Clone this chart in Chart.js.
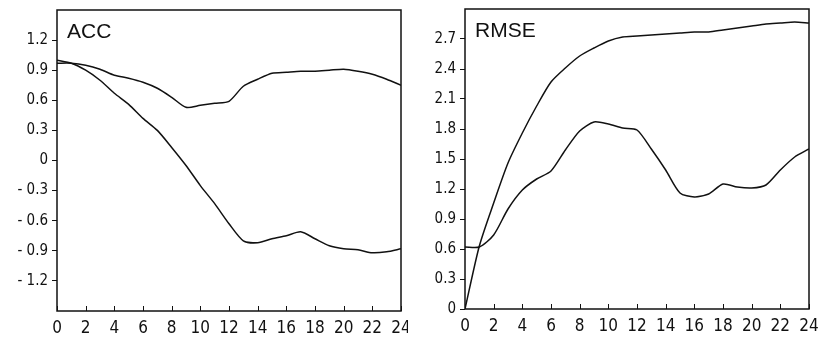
<!DOCTYPE html>
<html lang="en">
<head>
    <meta charset="utf-8" />
    <title>ACC / RMSE</title>
    <script src="https://cdn.jsdelivr.net/npm/chart.js"></script>
    <style>
      body { margin: 0; background: #fff; }
      #wrap { position: relative; width: 818px; height: 338px; }
      #accChart { position: absolute; left: 0; top: 0; }
      #rmseChart { position: absolute; left: 408px; top: 0; }
    </style>
</head>
<body>
    <div id="wrap">
        <canvas id="accChart" width="408" height="338"></canvas>
        <canvas id="rmseChart" width="410" height="338"></canvas>
    </div>

    <script>
        // --- données ---
        const hours = [0,1,2,3,4,5,6,7,8,9,10,11,12,13,14,15,16,17,18,19,20,21,22,23,24];
        const xTicks = [0,2,4,6,8,10,12,14,16,18,20,22,24];

        const accUpper = [0.97,0.97,0.95,0.91,0.85,0.82,0.78,0.72,0.63,0.53,0.55,0.57,0.59,0.74,0.81,0.87,0.88,0.89,0.89,0.90,0.91,0.89,0.86,0.81,0.75];
        const accLower = [1.00,0.97,0.90,0.80,0.67,0.56,0.42,0.30,0.13,-0.05,-0.25,-0.43,-0.63,-0.80,-0.82,-0.78,-0.75,-0.71,-0.78,-0.85,-0.88,-0.89,-0.92,-0.91,-0.88];
        const accTicks = [-1.2,-0.9,-0.6,-0.3,0,0.3,0.6,0.9,1.2];

        const rmseUpper = [0,0.63,1.06,1.46,1.76,2.03,2.27,2.41,2.53,2.61,2.68,2.72,2.73,2.74,2.75,2.76,2.77,2.77,2.79,2.81,2.83,2.85,2.86,2.87,2.86];
        const rmseLower = [0.62,0.62,0.74,1.00,1.19,1.30,1.38,1.59,1.78,1.87,1.85,1.81,1.79,1.60,1.39,1.16,1.12,1.15,1.25,1.22,1.21,1.24,1.39,1.52,1.60];
        const rmseTicks = [0,0.3,0.6,0.9,1.2,1.5,1.8,2.1,2.4,2.7];

        const FONT = "'Liberation Sans Narrow', 'DejaVu Sans Condensed', 'Liberation Sans', Arial, sans-serif";

        // cadre + petites graduations intérieures en x + titre du panneau
        const framePlugin = {
            id: "frame",
            afterDraw(chart, args, opts) {
                const ctx = chart.ctx;
                const a = chart.chartArea;
                ctx.save();
                ctx.strokeStyle = "#111";
                ctx.lineWidth = 1.5;
                ctx.strokeRect(a.left, a.top, a.right - a.left, a.bottom - a.top);
                ctx.lineWidth = 1;
                chart.scales.x.ticks.forEach(t => {
                    const px = Math.round(chart.scales.x.getPixelForValue(t.value)) + 0.5;
                    ctx.beginPath();
                    ctx.moveTo(px, a.bottom);
                    ctx.lineTo(px, a.bottom - 5);
                    ctx.stroke();
                });
                ctx.fillStyle = "#111";
                ctx.font = "21px 'Liberation Sans', Arial, sans-serif";
                ctx.textBaseline = "alphabetic";
                ctx.fillText(opts.text, a.left + 10, a.top + 28);
                ctx.restore();
            }
        };

        function makeChart(id, title, upper, lower, yMin, yMax, yTicks, padTop, padRight, xHeight) {
            const ctx = document.getElementById(id).getContext("2d");
            return new Chart(ctx, {
                type: "line",
                data: {
                    datasets: [
                        { data: hours.map((h, i) => ({ x: h, y: upper[i] })) },
                        { data: hours.map((h, i) => ({ x: h, y: lower[i] })) }
                    ]
                },
                options: {
                    responsive: false,
                    animation: false,
                    layout: { padding: { top: padTop, right: padRight, left: 0, bottom: 0 } },
                    elements: {
                        point: { radius: 0 },
                        line: { borderColor: "#111", borderWidth: 1.5, tension: 0.25, fill: false }
                    },
                    plugins: {
                        legend: { display: false },
                        tooltip: { enabled: false },
                        frame: { text: title }
                    },
                    scales: {
                        x: {
                            type: "linear",
                            min: 0,
                            max: 24,
                            afterBuildTicks: s => { s.ticks = xTicks.map(v => ({ value: v })); },
                            afterFit: s => { s.height = xHeight; s.paddingLeft = 0; s.paddingRight = 0; },
                            border: { display: false },
                            grid: { drawOnChartArea: false, drawTicks: false },
                            ticks: {
                                color: "#111",
                                padding: 7,
                                maxRotation: 0,
                                autoSkip: false,
                                font: { family: FONT, size: 17 },
                                callback: v => String(v)
                            }
                        },
                        y: {
                            min: yMin,
                            max: yMax,
                            afterBuildTicks: s => { s.ticks = yTicks.map(v => ({ value: v })); },
                            afterFit: s => { s.width = 57; s.paddingTop = 0; s.paddingBottom = 0; },
                            border: { display: false },
                            grid: { drawOnChartArea: false, drawTicks: true, tickLength: 5, color: "#111" },
                            ticks: {
                                color: "#111",
                                padding: 4,
                                font: { family: FONT, size: 15 },
                                callback: v => (v === 0 ? "0" : v.toFixed(1).replace("-", "- "))
                            }
                        }
                    }
                },
                plugins: [framePlugin]
            });
        }

        makeChart("accChart", "ACC", accUpper, accLower, -1.5, 1.5, accTicks, 10, 7, 27);
        makeChart("rmseChart", "RMSE", rmseUpper, rmseLower, 0, 3.0, rmseTicks, 9, 9, 29);
    </script>
</body>
</html>
